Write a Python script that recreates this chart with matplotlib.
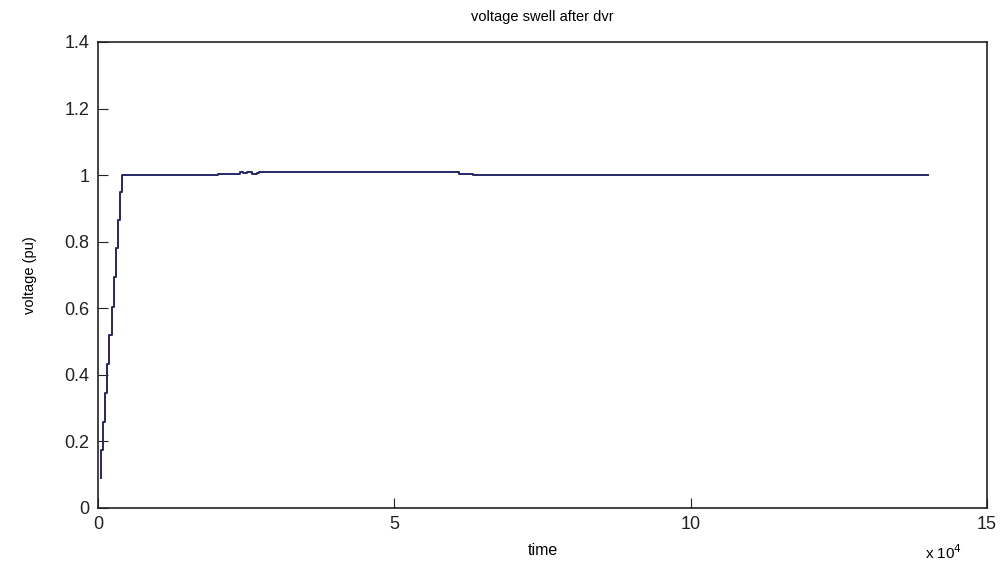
import matplotlib
matplotlib.use("Agg")
import matplotlib.pyplot as plt
from matplotlib.ticker import FuncFormatter

plt.rcParams['font.family'] = ['Liberation Sans', 'DejaVu Sans']

# time samples and voltage (pu)
tempo = [450, 450, 900, 1240, 1575, 1910, 2300, 2645, 3040, 3375, 3655, 3990,
         20000, 20300, 23500, 24000, 24500, 25200, 26000, 26800, 27200,
         60500, 61000, 62800, 63200, 140000]
tensao = [0.089, 0.174, 0.259, 0.344, 0.434, 0.52, 0.605, 0.695, 0.78, 0.865, 0.95, 1.0,
          1.0, 1.003, 1.004, 1.01, 1.006, 1.008, 1.004, 1.007, 1.008,
          1.008, 1.004, 1.004, 1.0, 1.0]

fig = plt.figure(figsize=(10.04, 5.65), dpi=100)
ax = fig.add_axes([0.0976, 0.1009, 0.8854, 0.8248])
ax.plot(tempo, tensao, color="#24286a", linewidth=1.4, drawstyle="steps-post")

ax.set_xlim(0, 150000)
ax.set_ylim(0, 1.4)
ax.set_xticks([0, 50000, 100000, 150000])
ax.xaxis.set_major_formatter(FuncFormatter(lambda v, p: "%d" % round(v / 1e4)))
ax.set_yticks([0, 0.2, 0.4, 0.6, 0.8, 1.0, 1.2, 1.4])
ax.yaxis.set_major_formatter(FuncFormatter(lambda v, p: ("%g" % v)))
ax.tick_params(direction="in", length=7, labelsize=13, colors="#222222", pad=6)
for s in ax.spines.values():
    s.set_linewidth(1.2)
    s.set_color("#222222")

ax.set_title("voltage swell after dvr", fontsize=10.5, pad=15)
ax.set_xlabel("time", fontsize=11.5, labelpad=7)
ax.set_ylabel("voltage (pu)", fontsize=10.5, labelpad=20)
ax.text(0.972, -0.075, r"x 10$^4$", transform=ax.transAxes, ha="right", va="top",
        fontsize=11)

fig.savefig("out.png", dpi=100)
